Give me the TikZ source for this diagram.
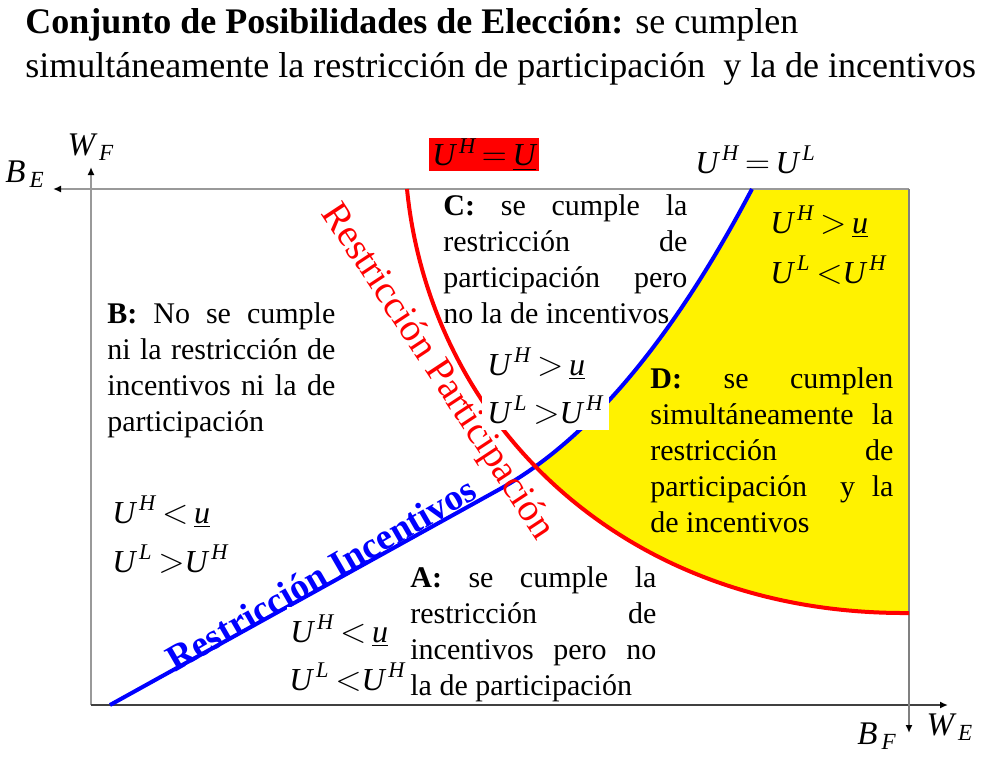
\documentclass[tikz,border=0pt]{standalone}
\usepackage{fontspec}
\setmainfont{Liberation Serif}
\usetikzlibrary{arrows.meta}
\newcommand{\jl}[2]{\makebox[#1][s]{#2}}
\newcommand{\UU}[1]{\mathit{U}^{\,\mathit{#1}}}
\newcommand{\ub}{\underline{\mathit{u}}}
\begin{document}
\begin{tikzpicture}[x=0.5pt,y=-0.5pt]
	% Estilos (MODIFICABLES)
	\tikzstyle{eje}=[draw=gray!80,line width=1.3pt]
	\tikzstyle{ejeB}=[draw=black!75,line width=1pt]
	\tikzstyle{punta}=[-{Latex[length=4pt,width=3.5pt,color=black]}]
	\tikzstyle{curvaI}=[blue,line width=2pt]
	\tikzstyle{curvaP}=[red,line width=2pt]
	\tikzstyle{bloque}=[anchor=base west,inner sep=0pt,align=left,font=\fontsize{15}{18}\selectfont]
	\tikzstyle{mate}=[anchor=base west,inner sep=0pt,font=\fontsize{16}{18}\selectfont]
	\tikzstyle{titulo}=[anchor=base west,inner sep=0pt,align=left,font=\fontsize{18}{22}\selectfont]
	% Dimensiones (MODIFICABLES)
	\def\AnchoB{114pt}
	\def\AnchoC{122pt}
	\def\AnchoD{121.5pt}
	\def\AnchoA{123pt}
	\useasboundingbox (0,0) rectangle (987,777);
	% Titulo (base = ultima linea)
	\node[titulo] (titulo) at (25,77) {\textbf{Conjunto de Posibilidades de Elección:} se cumplen\\
		simultáneamente la restricción de participación\ \ y la de incentivos};
	% Zona D (amarilla)
	\begin{scope}
		\clip (110,705) -- (500,489) .. controls (588.5,440) and (672.5,340) .. (752,189) -- (909,189) -- (909,705) -- cycle;
		\fill[yellow] (407,189) .. controls (430,420) and (620,615) .. (909,613) -- (909,189) -- cycle;
	\end{scope}
	% Ejes
	\coordinate (O) at (91,705);
	\coordinate (E) at (909,189);
	\coordinate (finWF) at (91,167);
	\coordinate (finWE) at (948,705);
	\coordinate (finBE) at (53,189);
	\coordinate (finBF) at (909,733);
	\draw[eje,punta] (E) -- (finBE);
	\draw[eje,punta] (O) -- (finWF);
	\draw[ejeB,punta] (O) -- (finWE);
	\draw[draw=gray,line width=0.8pt,punta] (E) -- (finBF);
	\node[font=\fontsize{16.5}{18}\selectfont] (WF) at (91,147) {$\mathit{W}_{\,\mathit{F}}$};
	\node[font=\fontsize{16.5}{18}\selectfont] (BE) at (25,174) {$\mathit{B}_{\,\mathit{E}}$};
	\node[font=\fontsize{16.5}{18}\selectfont] (BF) at (877,736) {$\mathit{B}_{\,\mathit{F}}$};
	\node[font=\fontsize{16.5}{18}\selectfont] (WE) at (950,727) {$\mathit{W}_{\,\mathit{E}}$};
	% Curvas
	\coordinate (I0) at (110,705);
	\coordinate (I1) at (500,489);
	\coordinate (I2) at (752,189);
	\coordinate (P0) at (407,189);
	\coordinate (P1) at (909,613);
	\draw[curvaI] (I0) -- (I1) .. controls (588.5,440) and (672.5,340) .. (I2);
	\draw[curvaP] (P0) .. controls (430,420) and (620,615) .. (P1);
	\node[red,rotate=-56.6,font=\fontsize{19.5}{22}\selectfont] (nomP) at (437,372) {Restricción Participación};
	\node[blue,rotate=30,font=\bfseries\fontsize{18.5}{22}\selectfont] (nomI) at (321,574) {Restricción Incentivos};
	% Etiquetas de las curvas
	\node[mate,fill=red,minimum width=55pt,minimum height=16.5pt,anchor=center] (UHU) at (484,154.5) {$\UU{H}\,{=}\,{\underline{\mathit{U}}}$};
	\node[mate] (UHUL) at (695,173) {$\UU{H}\,{=}\,{\UU{L}}$};
	% Zona B
	\node[bloque] (zonaB) at (107,431) {\jl{\AnchoB}{\textbf{B:} No se cumple}\\
		\jl{\AnchoB}{ni la restricción de}\\
		\jl{\AnchoB}{incentivos ni la de}\\
		participación};
	\node[mate] (B1) at (112,523) {$\UU{H}\,{<}\,\ub$};
	\node[mate] (B2) at (112,572) {$\UU{L}\,{>}\UU{H}$};
	% Zona C
	\node[bloque] (zonaC) at (443,323) {\jl{\AnchoC}{\textbf{C:} se cumple la}\\
		\jl{\AnchoC}{restricción de}\\
		\jl{\AnchoC}{participación pero}\\
		no la de incentivos};
	\node[mate] (C1) at (487,375) {$\UU{H}\,{>}\,\ub$};
	\node[mate,fill=white,inner xsep=2.5pt,inner ysep=3pt] (C2) at (482,423) {$\UU{L}\,{>}\UU{H}$\hspace{4pt}};
	% Zona D
	\node[bloque] (zonaD) at (650,532) {\jl{\AnchoD}{\textbf{D:} se cumplen}\\
		\jl{\AnchoD}{simultáneamente la}\\
		\jl{\AnchoD}{restricción de}\\
		\jl{\AnchoD}{participación\ \ y la}\\
		de incentivos};
	\node[mate] (D1) at (770,233) {$\UU{H}\,{>}\,\ub$};
	\node[mate] (D2) at (770,283) {$\UU{L}\,{<}\UU{H}$};
	% Zona A
	\node[bloque] (zonaA) at (410,695) {\jl{\AnchoA}{\textbf{A:} se cumple la}\\
		\jl{\AnchoA}{restricción de}\\
		\jl{\AnchoA}{incentivos pero no}\\
		la de participación};
	\node[mate,fill=white,inner xsep=1.5pt,inner ysep=4pt] (A1) at (287,642) {$\UU{H}\,{<}\,\ub$};
	\node[mate] (A2) at (289,690) {$\UU{L}\,{<}\UU{H}$};
\end{tikzpicture}
\end{document}
